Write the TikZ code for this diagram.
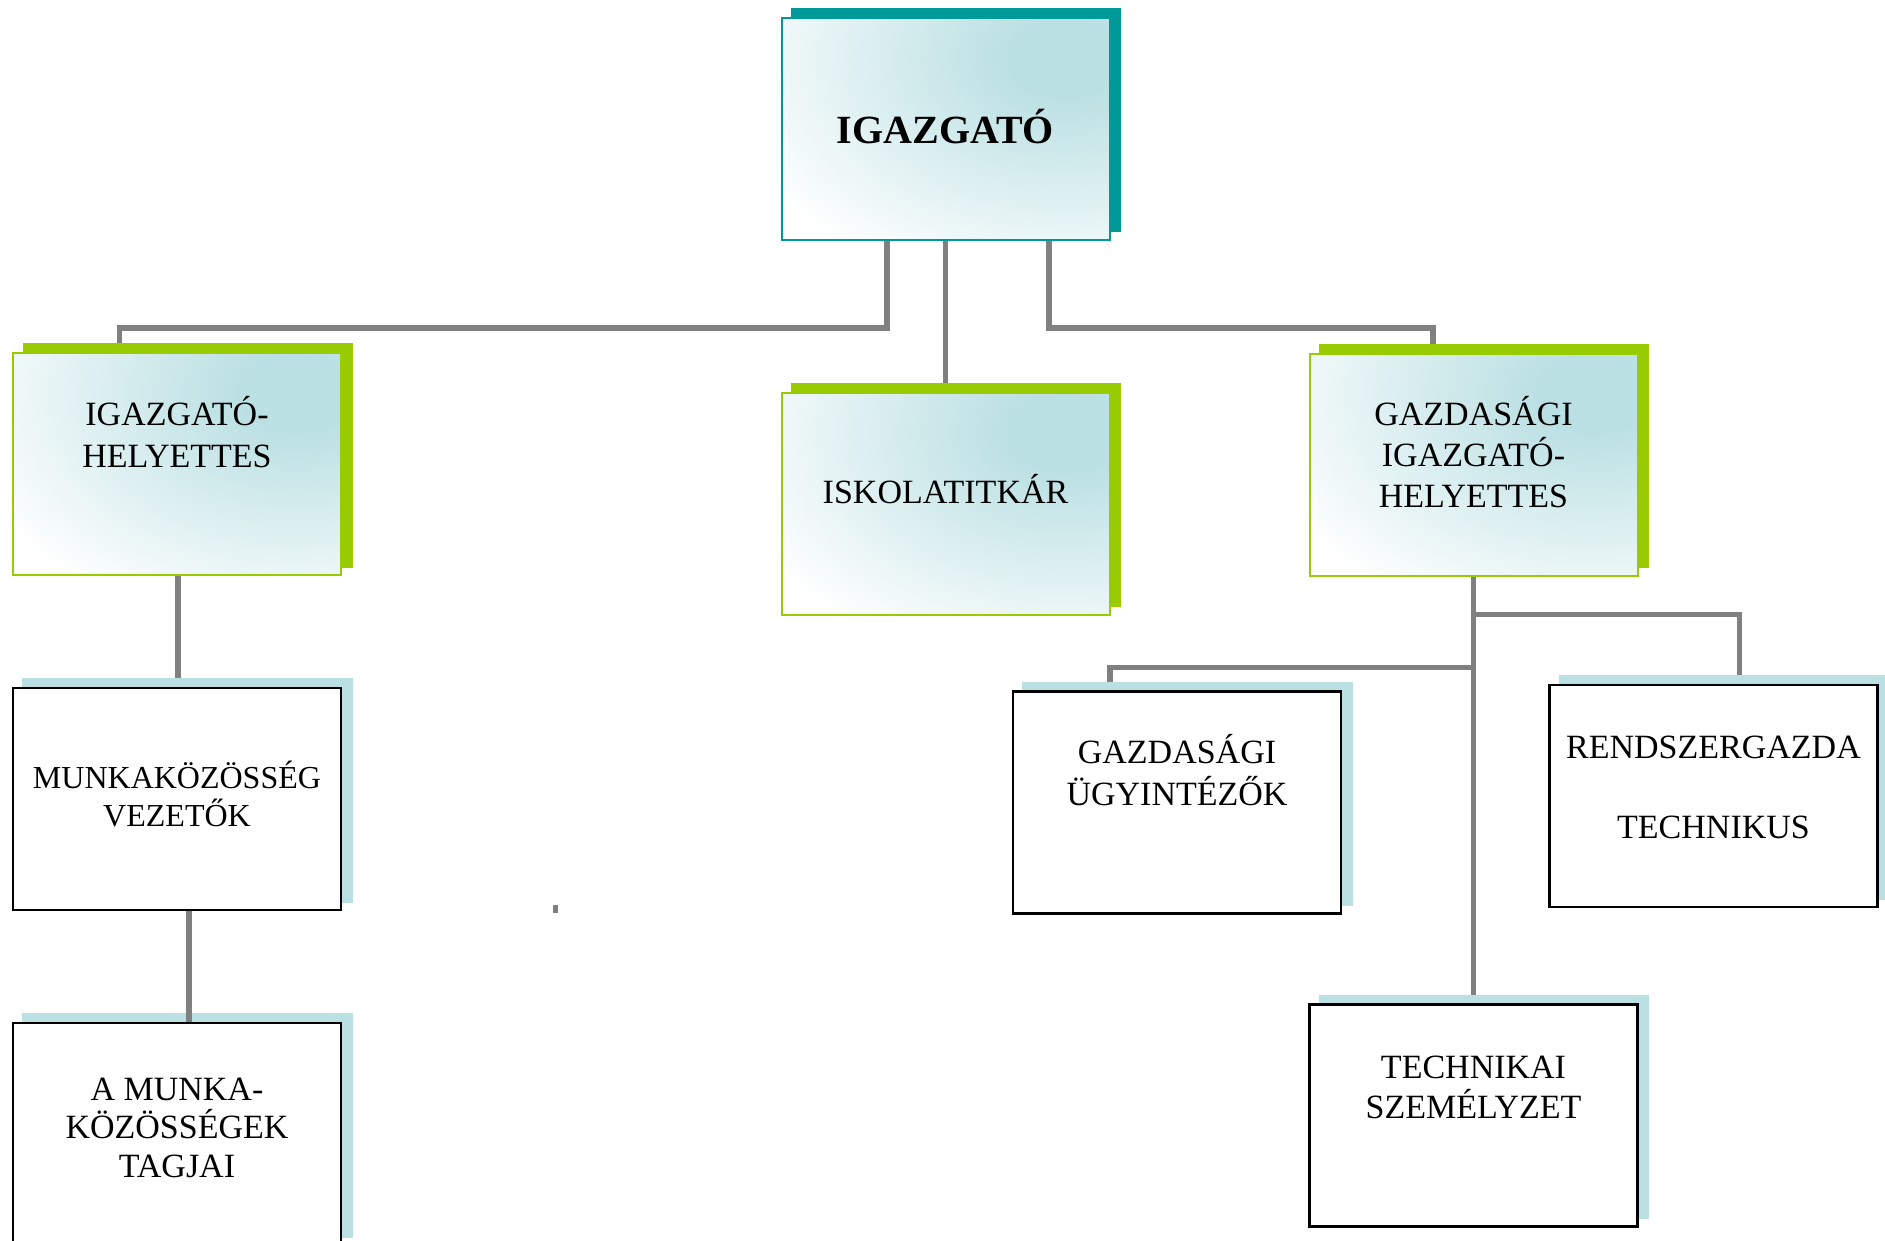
\documentclass[tikz,border=0pt]{standalone}
\usepackage{fontspec}
\setmainfont{Liberation Serif}
\definecolor{tealc}{HTML}{009999}
\definecolor{greenc}{HTML}{99CC00}
\definecolor{lblue}{HTML}{BBE0E3}
\definecolor{linegray}{HTML}{808080}
\pgfdeclareradialshading{tealglow}{\pgfpoint{0bp}{0bp}}{color(0bp)=(lblue); color(4bp)=(lblue); color(25bp)=(white); color(50bp)=(white)}
\pgfdeclarelayer{background}
\pgfsetlayers{background,main}
\begin{document}
\begin{tikzpicture}[x=1pt,y=-1pt,
  box/.style={rectangle, minimum width=328pt, minimum height=222pt, inner sep=0pt, line width=2pt, fill=white},
  grad/.style={path picture={\shade[shading=tealglow] ([xshift=-45pt,yshift=-40pt]path picture bounding box.north east) ellipse [x radius=350pt, y radius=240pt];}},
  topbox/.style={box, grad, draw=tealc},
  greenbox/.style={box, grad, draw=greenc},
  plainbox/.style={box, draw=black, line width=2.4pt},
  txt/.style={inner sep=0pt, anchor=north, align=center, font=\fontsize{34}{41}\selectfont},
  conn/.style={draw=linegray, line width=5.5pt},
]
\useasboundingbox (0,0) rectangle (1885,1241);

% boxes
\node[topbox]   (top) at (945.5,129)   {};
\node[greenbox] (ih)  at (177,464)     {};
\node[greenbox] (isk) at (945.5,503.5) {};
\node[greenbox] (gih) at (1473.5,464.5){};
\node[plainbox] (mk)  at (177,799)     {};
\node[plainbox] (gu)  at (1177,802.5)  {};
\node[plainbox] (rg)  at (1713.5,796)  {};
\node[plainbox] (mt)  at (177,1134)    {};
\node[plainbox] (ts)  at (1473.5,1115.5){};

% texts
\node[txt, font=\bfseries\fontsize{40}{48}\selectfont] (ttop) at (945.5,108) {\rule{0pt}{35pt}IGAZGATÓ};
\node[txt, font=\fontsize{34}{42}\selectfont] (tih) at (177,390) {\rule{0pt}{35pt}IGAZGATÓ-\\HELYETTES};
\node[txt] (tisk) at (945.5,468) {\rule{0pt}{35pt}ISKOLATITKÁR};
\node[txt] (tgih) at (1473.5,390) {\rule{0pt}{35pt}GAZDASÁGI\\IGAZGATÓ-\\HELYETTES};
\node[txt, font=\fontsize{32}{38.4}\selectfont] (tmk) at (177,753.3) {\rule{0pt}{35pt}MUNKAKÖZÖSSÉG\\VEZETŐK};
\node[txt, font=\fontsize{34}{41.5}\selectfont] (tgu) at (1177,728.3) {\rule{0pt}{35pt}GAZDASÁGI\\ÜGYINTÉZŐK};
\node[txt, font=\fontsize{34}{40}\selectfont] (trg) at (1713.5,723.3) {\rule{0pt}{35pt}RENDSZERGAZDA\\[40pt]TECHNIKUS};
\node[txt, font=\fontsize{34}{38.4}\selectfont] (tmt) at (177,1065) {\rule{0pt}{35pt}A MUNKA-\\KÖZÖSSÉGEK\\TAGJAI};
\node[txt, font=\fontsize{34}{40}\selectfont] (tts) at (1473.5,1043.3) {\rule{0pt}{35pt}TECHNIKAI\\SZEMÉLYZET};

% connectors and shadows behind the boxes
\begin{pgfonlayer}{background}
  \draw[conn] ([xshift=-58.5pt]top.south) -- ++(0,87) -| ([xshift=-57.5pt]ih.north);
  \draw[conn] (top.south) -- (isk.north);
  \draw[conn] ([xshift=103.5pt]top.south) -- ++(0,87) -| ([xshift=-40.5pt]gih.north);
  \draw[conn] ([xshift=1pt]ih.south) -- ([xshift=1pt]mk.north);
  \draw[conn] (gih.south) -- (ts.north);
  \draw[conn] (gih.south) ++(0,38) -| ([xshift=26pt]rg.north);
  \draw[conn] (gih.south) ++(0,91) -| ([xshift=-67pt]gu.north);
  \foreach \n/\c in {top/tealc, ih/greenc, isk/greenc, gih/greenc, mk/lblue, gu/lblue, rg/lblue, mt/lblue, ts/lblue}
    \fill[\c] ([shift={(10.5,-8.5)}]\n.south west) rectangle ([shift={(10.5,-8.5)}]\n.north east);
\end{pgfonlayer}
\draw[conn] ([xshift=12pt]mk.south) -- ([xshift=12pt]mt.north);

% small stray mark
\fill[linegray] (553,905) rectangle (558,913);
\end{tikzpicture}
\end{document}
